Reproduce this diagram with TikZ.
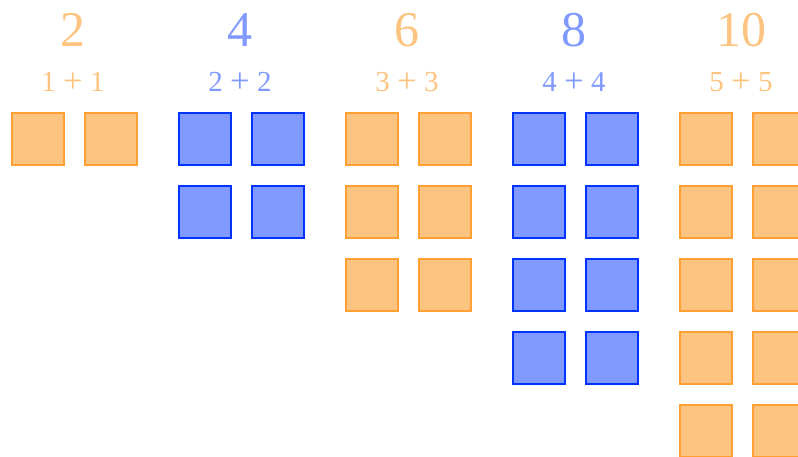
\documentclass[tikz,border=0pt]{standalone}
\usepackage{fontspec}
\setmainfont{Liberation Serif}
\definecolor{ofill}{RGB}{252,196,128}
\definecolor{oline}{RGB}{255,160,50}
\definecolor{bfill}{RGB}{128,153,255}
\definecolor{bline}{RGB}{0,51,255}
\newcommand{\bigplus}{\raisebox{-0.1ex}{\scalebox{1.2}{+}}}
\tikzset{
  sq/.style={draw, line width=2pt, minimum size=52pt, inner sep=0pt, anchor=north west},
  osq/.style={sq, fill=ofill, draw=oline},
  bsq/.style={sq, fill=bfill, draw=bline},
  big/.style={font=\fontsize{50}{50}\selectfont, anchor=base, inner sep=0pt},
  small/.style={font=\fontsize{29}{29}\selectfont, anchor=base, inner sep=0pt},
}
\begin{document}
\begin{tikzpicture}[x=1pt,y=-1pt]
\useasboundingbox (0,0) rectangle (798,456);
\clip (0,0) rectangle (798,456);
\foreach \g/\sty/\col in {0/osq/ofill,1/bsq/bfill,2/osq/ofill,3/bsq/bfill,4/osq/ofill}{
  \pgfmathtruncatemacro{\n}{2*(\g+1)}
  \pgfmathtruncatemacro{\h}{\g+1}
  \node[big, text=\col] (num\g) at ({73+167*\g},46) {\n};
  \node[small, text=\col] (sum\g) at ({73+167*\g},91) {\h{} \bigplus{} \h};
  \foreach \r in {0,...,\g}{
    \node[\sty] (a\g\r) at ({11+167*\g},{112+73*\r}) {};
    \node[\sty] (b\g\r) at ({84+167*\g},{112+73*\r}) {};
  }
}
\end{tikzpicture}
\end{document}
